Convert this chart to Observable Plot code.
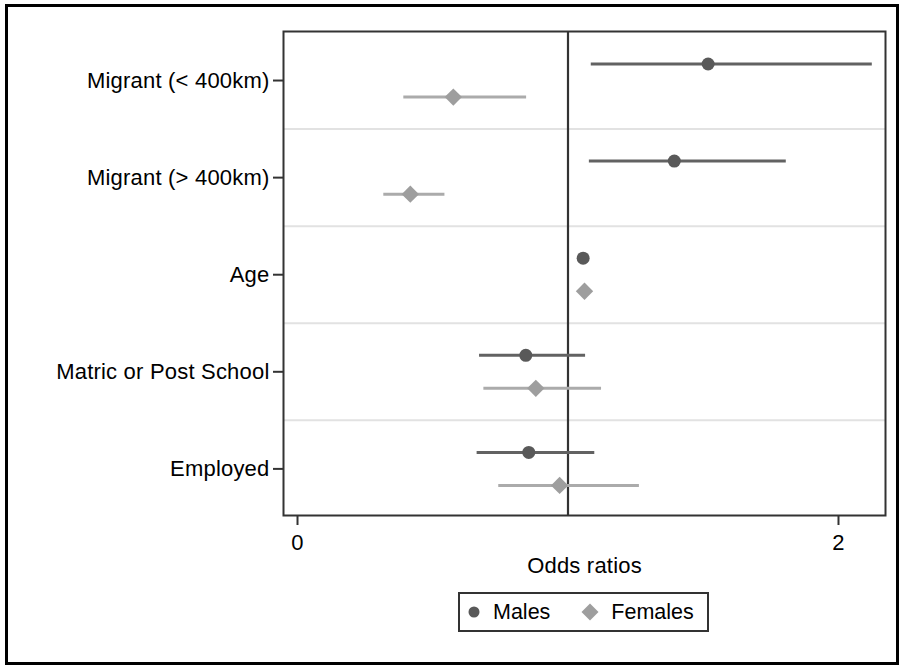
<!DOCTYPE html>
<html>
<head>
<meta charset="utf-8">
<script src="https://cdn.jsdelivr.net/npm/d3@7"></script>
<script src="https://cdn.jsdelivr.net/npm/@observablehq/plot@0.6"></script>
<style>
  html, body { margin: 0; padding: 0; background: #fff; }
  #page { position: relative; width: 904px; height: 666px; overflow: hidden; font-family: 'Liberation Sans', Arial, sans-serif; }
  #border { position: absolute; left: 5px; top: 4px; width: 894px; height: 661px; box-sizing: border-box; border: 3.5px solid #000; pointer-events: none; }
  #chart { position: absolute; left: 0; top: 0; }
  #legend { position: absolute; left: 458px; top: 592px; width: 251px; height: 40px; box-sizing: border-box; border: 2px solid #333; background: #fff;
            display: flex; align-items: center; font-size: 21.5px; color: #000; }
  #legend .item { display: flex; align-items: center; }
  #legend svg { display: block; }
</style>
</head>
<body>
<div id="page">
  <div id="chart"></div>
  <div id="legend"></div>
  <div id="border"></div>
</div>
<script>
// ---- data ----
const categories = ["Migrant (< 400km)", "Migrant (> 400km)", "Age", "Matric or Post School", "Employed"];
const malesOR  = [1.518, 1.393, 1.056, 0.844, 0.855];
const malesLo  = [1.086, 1.079, 1.050, 0.673, 0.664];
const malesHi  = [2.125, 1.807, 1.062, 1.065, 1.099];
const femalesOR = [0.576, 0.417, 1.061, 0.881, 0.969];
const femalesLo = [0.393, 0.319, 1.055, 0.689, 0.744];
const femalesHi = [0.847, 0.545, 1.067, 1.124, 1.264];
const groups = ["Males", "Females"];
const xTicks = [0, 2];
const xLabel = "Odds ratios";
const referenceValue = 1;

// ---- build table ----
const rows = [];
categories.forEach((c, i) => {
  rows.push({cat: c, idx: i, group: "Males", or: malesOR[i], lo: malesLo[i], hi: malesHi[i]});
  rows.push({cat: c, idx: i, group: "Females", or: femalesOR[i], lo: femalesLo[i], hi: femalesHi[i]});
});
const offset = {Males: -0.17, Females: 0.17};
const ypos = d => d.idx + offset[d.group];
const maleColor = "#595959", femaleColor = "#9e9e9e";
const maleLine = "#626262", femaleLine = "#ababab";
const gridLines = d3.range(categories.length - 1).map(i => i + 0.5);

const chart = Plot.plot({
  width: 904,
  height: 580,
  marginLeft: 283,
  marginRight: 19,
  marginTop: 31,
  marginBottom: 65,
  style: {fontFamily: "'Liberation Sans', Arial, sans-serif", fontSize: "22px", color: "#000", background: "transparent", letterSpacing: "0.2px", overflow: "visible"},
  x: {domain: [-0.0518, 2.1738]},
  y: {domain: [4.48, -0.505]},
  marks: [
    Plot.ruleY(gridLines, {stroke: "#e2e2e2", strokeWidth: 2}),
    Plot.ruleX([referenceValue], {stroke: "#333", strokeWidth: 2.2}),
    Plot.ruleY(rows, {y: ypos, x1: "lo", x2: "hi", stroke: d => d.group === "Males" ? maleLine : femaleLine, strokeWidth: 3}),
    Plot.dot(rows.filter(d => d.group === "Males"), {x: "or", y: ypos, r: 6.5, fill: maleColor, stroke: "none", symbol: "circle"}),
    Plot.dot(rows.filter(d => d.group === "Females"), {x: "or", y: ypos, r: 7.8, fill: femaleColor, stroke: "none", symbol: "diamond2"}),
    Plot.frame({stroke: "#333", strokeWidth: 2}),
    Plot.axisY({ticks: d3.range(categories.length), tickFormat: i => categories[i], tickSize: 10, tickPadding: 4, label: null, stroke: "#333", strokeWidth: 2, fontSize: 22}),
    Plot.axisX({ticks: xTicks, tickFormat: d => String(d), tickSize: 10, tickPadding: 9, label: null, stroke: "#333", strokeWidth: 2, fontSize: 22}),
    Plot.text([xLabel], {frameAnchor: "bottom", dy: 50, lineAnchor: "middle", fontSize: 22, fill: "#000"})
  ]
});
document.getElementById("chart").appendChild(chart);

// ---- legend ----
const legend = d3.select("#legend");
const legendItems = [
  {label: groups[0], color: maleColor, type: d3.symbolCircle, size: Math.PI * 5.5 * 5.5, ml: 4, gap: 9},
  {label: groups[1], color: femaleColor, type: d3.symbolDiamond2, size: 185, ml: 30, gap: 11}
];
legendItems.forEach(it => {
  const item = legend.append("div").attr("class", "item").style("margin-left", it.ml + "px");
  const s = item.append("svg").attr("width", 20).attr("height", 20);
  s.append("path").attr("transform", "translate(10,10)").attr("d", d3.symbol(it.type, it.size)()).attr("fill", it.color);
  item.append("span").style("margin-left", it.gap + "px").text(it.label);
});
</script>
</body>
</html>
